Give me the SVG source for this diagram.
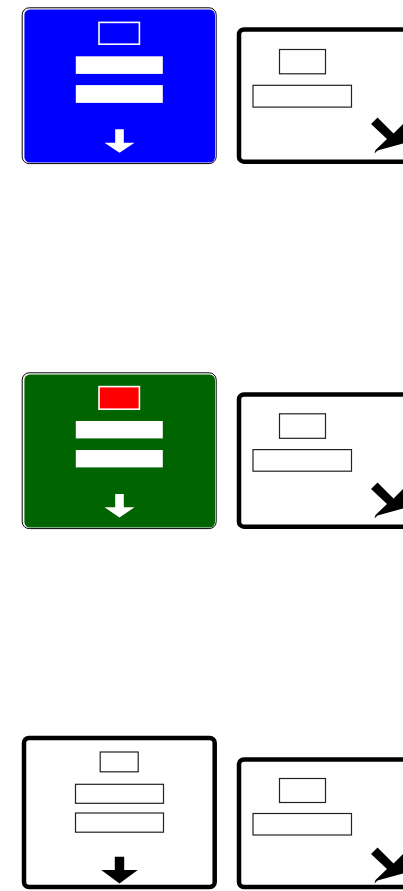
<svg xmlns="http://www.w3.org/2000/svg" width="403" height="891" viewBox="0 0 403 891">
<style>
.outline{fill:#fff;stroke:#000;stroke-width:1}
.thick{fill:#fff;stroke:#000;stroke-width:4.5}
.wbar{fill:#fff}
.obox{fill:none;stroke:#222;stroke-width:1.2}
.warrow{fill:#fff}
.barrow{fill:#000}
</style>
<defs>
<polygon id="diag" points="377.5,117.5 393.5,133.5 406.5,120.5 412,141 377.5,150.5 374.5,153.5 375.5,150 387,139 371,124"/>
</defs>
<g id="sign-blue">
<rect class="outline" x="22.2" y="7.8" width="194" height="155.8" rx="7"/>
<rect x="24.4" y="9.4" width="190.6" height="153.2" rx="5.5" fill="#0000FF"/>
<rect x="99" y="22.4" width="40.4" height="21.8" fill="none" stroke="#fff" stroke-width="1.6"/>
<rect class="wbar" x="75.8" y="56.3" width="87" height="17.6"/>
<rect class="wbar" x="75.8" y="85.1" width="87" height="17.8"/>
<polygon class="warrow" points="115.2,129.3 123.8,129.3 123.8,142.7 134.5,142.7 119.5,152.8 104.5,142.7 115.2,142.7"/>
</g>
<g id="sign-right-1">
<rect class="thick" x="239" y="29.5" width="190" height="132.2" rx="5"/>
<rect class="obox" x="279.5" y="49.5" width="46" height="24.3"/>
<rect class="obox" x="253" y="85.3" width="98.5" height="21.8"/>
<use href="#diag"/>
</g>
<g id="sign-green">
<rect class="outline" x="22.2" y="372.8" width="194" height="155.8" rx="7"/>
<rect x="24.4" y="374.4" width="190.6" height="153.2" rx="5.5" fill="#006400"/>
<rect x="99" y="386.6" width="40.4" height="22.6" fill="#FF0000" stroke="#fff" stroke-width="1.6"/>
<rect class="wbar" x="75.8" y="421" width="87" height="17.4"/>
<rect class="wbar" x="75.8" y="450" width="87" height="17.4"/>
<polygon class="warrow" points="115.2,494 123.8,494 123.8,507.3 134.5,507.3 119.5,517.5 104.5,507.3 115.2,507.3"/>
</g>
<g id="sign-right-2">
<rect class="thick" x="239" y="394.5" width="190" height="132.2" rx="5"/>
<rect class="obox" x="279.5" y="413.8" width="46" height="24.5"/>
<rect class="obox" x="253" y="449.6" width="98.5" height="21.6"/>
<use href="#diag" transform="translate(0,365)"/>
</g>
<g id="sign-white">
<rect class="thick" x="24" y="738" width="190.7" height="149" rx="5"/>
<rect class="obox" x="100.2" y="752" width="38" height="19.8"/>
<rect class="obox" x="75.5" y="784.3" width="88" height="19"/>
<rect class="obox" x="75.5" y="813" width="88" height="19.2"/>
<polygon class="barrow" points="114.8,856.7 124.2,856.7 124.2,870 137.8,870 119.5,883.5 101.2,870 114.8,870"/>
</g>
<g id="sign-right-3">
<rect class="thick" x="239" y="759.5" width="190" height="127.5" rx="5"/>
<rect class="obox" x="279.5" y="778.5" width="46" height="24"/>
<rect class="obox" x="253" y="813.5" width="98.5" height="21.5"/>
<use href="#diag" transform="translate(0,730)"/>
</g>
</svg>
